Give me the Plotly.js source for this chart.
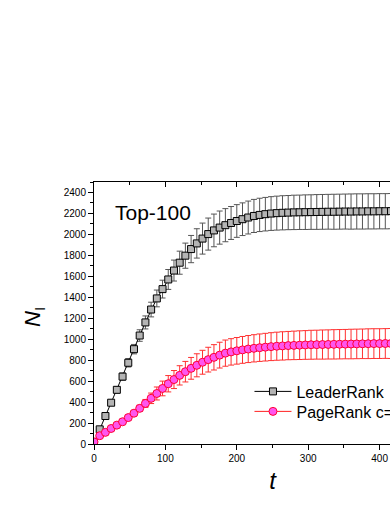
<!DOCTYPE html>
<html>
<head>
<meta charset="utf-8">
<script src="https://cdn.plot.ly/plotly-3.0.1.min.js"></script>
<style>
html,body{margin:0;padding:0;width:390px;height:505px;overflow:hidden;background:#fff;}
#chart{width:470px;height:505px;}
</style>
</head>
<body>
<div id="chart"></div>
<script>
const tValues = [0,8,16,24,32,40,48,56,64,72,80,88,96,104,112,120,128,136,144,152,160,168,176,184,192,200,208,216,224,232,240,248,256,264,272,280,288,296,304,312,320,328,336,344,352,360,368,376,384,392,400,408,416,424,432,440,448,456,464,472,480,488,496];

const leaderRank = [10,140,267,394,517,643,775,905,1035,1160,1283,1389,1478,1570,1655,1730,1797,1860,1914,1960,2003,2038,2065,2088,2109,2128,2145,2161,2176,2186,2193,2199,2203,2206,2208,2210,2211,2212,2213,2214,2215,2216,2216,2217,2218,2218,2219,2219,2220,2220,2221,2221,2222,2222,2222,2223,2223,2223,2224,2224,2224,2224,2225];
const leaderRankErr = [0,15,20,25,30,35,40,45,55,62,70,80,85,95,100,110,120,130,140,148,153,156,158,158,157,156,156,157,158,159,160,161,162,163,163,164,164,165,165,166,166,166,167,167,167,168,168,168,168,168,168,168,168,168,168,168,168,168,168,168,168,168,168];

const pageRank = [20,79,111,148,180,212,252,294,340,387,436,482,530,575,615,655,690,722,751,780,805,827,848,867,879,889,898,906,913,919,924,929,933,936,939,941,943,945,947,948,949,950,951,952,953,954,955,956,957,958,958,959,959,960,960,960,961,961,961,962,962,962,962];
const pageRankErr = [0,8,10,12,14,16,18,22,30,38,50,62,70,78,86,92,98,104,110,114,118,121,123,125,126,127,128,129,130,131,132,133,134,135,135,136,137,137,138,138,139,139,140,140,140,141,141,141,142,142,142,142,143,143,143,143,143,143,143,143,143,143,143];

const seriesNames = ['LeaderRank', 'PageRank c=0.15'];
const panelLabel = 'Top-100';
const xTitle = '<i>t</i>';
const yTitle = '<i>N</i><sub>I</sub>';

const font = 'Arial, "Liberation Sans", sans-serif';

const traces = [
  {
    x: tValues, y: leaderRank, name: seriesNames[0], legend: 'legend',
    type: 'scatter', mode: 'lines+markers',
    line: {color: '#000000', width: 1},
    marker: {symbol: 'square', size: 7, color: '#b4b4b4', line: {color: '#000000', width: 1}},
    error_y: {type: 'data', array: leaderRankErr, visible: true, color: '#555555', thickness: 1, width: 3}
  },
  {
    x: tValues, y: pageRank, name: seriesNames[1], legend: 'legend2',
    type: 'scatter', mode: 'lines+markers',
    line: {color: '#ff2020', width: 1},
    marker: {symbol: 'circle', size: 8, color: '#ff55ee', line: {color: '#ff0033', width: 1}},
    error_y: {type: 'data', array: pageRankErr, visible: true, color: '#ff3030', thickness: 1, width: 3}
  },
  {
    x: [0, 500], y: [null, null], xaxis: 'x2', yaxis: 'y',
    type: 'scatter', mode: 'lines', showlegend: false, hoverinfo: 'skip'
  }
];

const legendBase = {
  xanchor: 'left', yanchor: 'top',
  bgcolor: 'rgba(0,0,0,0)', borderwidth: 0,
  font: {family: font, size: 16, color: '#000000'},
  itemwidth: 37
};

const layout = {
  width: 470, height: 505,
  margin: {l: 94, r: 19, t: 182, b: 61, pad: 0},
  paper_bgcolor: '#ffffff', plot_bgcolor: '#ffffff',
  font: {family: font, color: '#000000', size: 10},
  showlegend: true,
  legend: Object.assign({x: 0.4355, y: 0.2653}, legendBase),
  legend2: Object.assign({x: 0.4355, y: 0.189}, legendBase),
  xaxis: {
    range: [0, 500], showgrid: false, zeroline: false,
    showline: true, linecolor: '#000000', linewidth: 1,
    ticks: 'outside', ticklen: 5, tickwidth: 1, tickcolor: '#000000',
    dtick: 100, tick0: 0,
    minor: {dtick: 50, ticks: 'outside', ticklen: 3, tickcolor: '#000000', showgrid: false},
    tickfont: {family: font, size: 10},
    title: {text: xTitle, font: {family: font, size: 24}, standoff: 9}
  },
  xaxis2: {
    overlaying: 'x', side: 'top', anchor: 'y', matches: 'x',
    range: [0, 500], showgrid: false, zeroline: false,
    showline: true, linecolor: '#000000', linewidth: 1,
    ticks: 'inside', ticklen: 5, tickwidth: 1, tickcolor: '#000000',
    dtick: 100, tick0: 0, showticklabels: false,
    minor: {dtick: 50, ticks: 'inside', ticklen: 3, tickcolor: '#000000', showgrid: false}
  },
  yaxis: {
    range: [0, 2500], showgrid: false, zeroline: false,
    showline: true, mirror: true, linecolor: '#000000', linewidth: 1,
    ticks: 'outside', ticklen: 5, tickwidth: 1, tickcolor: '#000000',
    dtick: 200, tick0: 0,
    minor: {dtick: 100, ticks: 'outside', ticklen: 3, tickcolor: '#000000', showgrid: false},
    tickfont: {family: font, size: 10}
  },
  annotations: [
    {text: panelLabel, xref: 'paper', yref: 'paper', x: 0.052, y: 0.885,
     xanchor: 'left', yanchor: 'middle', showarrow: false,
     font: {family: font, size: 21, color: '#000000'}},
    {text: yTitle, xref: 'paper', yref: 'paper', x: -0.168, y: 0.485,
     xanchor: 'center', yanchor: 'middle', showarrow: false, textangle: -90,
     font: {family: font, size: 22, color: '#000000'}}
  ]
};

Plotly.newPlot('chart', traces, layout, {displayModeBar: false, staticPlot: true});
</script>
</body>
</html>
